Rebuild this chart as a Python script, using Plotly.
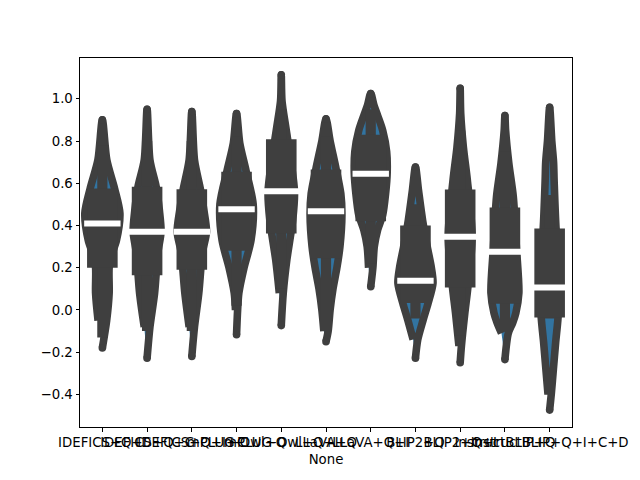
import plotly.graph_objects as go

# ---- data ----
categories = ["IDEFICS+Q+I", "IDEFICS+Q+C", "IDEFICS+Q+I+C", "mPLUG-Owl+Q",
              "mPLUG-Owl+Q+I", "LLaVA+Q", "LLaVA+Q+I", "BLIP2+Q", "BLIP2+Q+I",
              "InstructBLIP+Q", "InstructBLIP+Q+I+C+D"]

# violin density profiles: value levels and relative half-width (1.0 = widest)
v_levels = [
    [-0.18, -0.05, 0.08, 0.20, 0.26, 0.33, 0.458, 0.576, 0.71, 0.90],
    [-0.228, -0.08, 0.08, 0.27, 0.37, 0.47, 0.583, 0.71, 0.95],
    [-0.22, -0.08, 0.08, 0.27, 0.37, 0.47, 0.572, 0.71, 0.94],
    [-0.117, 0.0, 0.08, 0.20, 0.33, 0.50, 0.66, 0.79, 0.93],
    [-0.074, 0.08, 0.236, 0.425, 0.56, 0.71, 0.867, 0.99, 1.114],
    [-0.15, -0.10, 0.0, 0.10, 0.20, 0.30, 0.45, 0.55, 0.67, 0.80, 0.905],
    [0.11, 0.20, 0.30, 0.38, 0.45, 0.55, 0.65, 0.75, 0.85, 0.92, 0.97, 1.025],
    [-0.228, -0.14, -0.047, 0.033, 0.127, 0.20, 0.30, 0.425, 0.567, 0.677],
    [-0.25, -0.17, -0.015, 0.107, 0.347, 0.615, 0.77, 0.93, 1.05],
    [-0.235, -0.11, -0.06, -0.015, 0.08, 0.30, 0.536, 0.694, 0.85, 0.92],
    [-0.474, -0.40, -0.28, -0.15, -0.047, 0.107, 0.25, 0.386, 0.615, 0.70, 0.80, 0.96],
]
v_density = [
    [0.0, 0.24, 0.38, 0.38, 0.52, 0.79, 0.98, 0.68, 0.25, 0.0],
    [0.0, 0.16, 0.42, 0.60, 0.78, 0.69, 0.51, 0.16, 0.0],
    [0.0, 0.15, 0.39, 0.59, 0.82, 0.68, 0.48, 0.15, 0.0],
    [0.0, 0.06, 0.13, 0.42, 0.81, 0.93, 0.53, 0.18, 0.0],
    [0.0, 0.11, 0.31, 0.64, 0.74, 0.53, 0.25, 0.04, 0.0],
    [0.0, 0.12, 0.23, 0.39, 0.61, 0.78, 0.89, 0.83, 0.56, 0.23, 0.0],
    [0.0, 0.12, 0.20, 0.39, 0.67, 0.83, 0.92, 0.89, 0.67, 0.39, 0.18, 0.0],
    [0.0, 0.13, 0.43, 0.71, 0.98, 0.89, 0.66, 0.40, 0.17, 0.0],
    [0.0, 0.07, 0.26, 0.43, 0.67, 0.40, 0.18, 0.03, 0.0],
    [0.0, 0.19, 0.44, 0.61, 0.78, 0.64, 0.47, 0.22, 0.04, 0.0],
    [0.0, 0.09, 0.21, 0.34, 0.46, 0.56, 0.50, 0.36, 0.25, 0.22, 0.12, 0.0],
]

# inner box statistics
q25 = [0.20, 0.165, 0.19, 0.28, 0.362, 0.245, 0.42, 0.033, 0.107, 0.03, -0.035]
median = [0.41, 0.37, 0.37, 0.477, 0.562, 0.468, 0.645, 0.138, 0.347, 0.276, 0.107]
q75 = [0.575, 0.583, 0.572, 0.654, 0.808, 0.665, 0.83, 0.40, 0.57, 0.485, 0.386]
whisk_lo = [-0.13, -0.10, -0.10, 0.02, 0.10, -0.08, 0.22, -0.04, -0.12, -0.10, -0.04]
whisk_hi = [0.78, 0.80, 0.80, 0.82, 0.95, 0.82, 0.95, 0.50, 0.85, 0.75, 0.544]

yticks = [-0.4, -0.2, 0.0, 0.2, 0.4, 0.6, 0.8, 1.0]
yticktext = ["\u22120.4", "\u22120.2", "0.0", "0.2", "0.4", "0.6", "0.8", "1.0"]

# ---- styling ----
BODY = "#3274a1"
GRAY = "#3f3f3f"
MAXHALF = 0.4
LW = 7.6
FONT = "DejaVu Sans"

fig = go.Figure()

for i, (lv, dn) in enumerate(zip(v_levels, v_density)):
    xs = [i + d * MAXHALF for d in dn] + [i - d * MAXHALF for d in reversed(dn[1:-1])]
    ys = list(lv) + list(reversed(lv[1:-1]))
    fig.add_trace(go.Scatter(
        x=xs, y=ys, mode="lines", fill="toself", fillcolor=BODY,
        line=dict(color=GRAY, width=LW, shape="spline", smoothing=0.8),
        hoverinfo="skip", showlegend=False))
    # rounded stroke ends at the two tips
    fig.add_trace(go.Scatter(
        x=[i, i], y=[lv[0], lv[-1]], mode="markers",
        marker=dict(symbol="circle", size=LW, color=GRAY, line=dict(width=0)),
        hoverinfo="skip", showlegend=False))

# whiskers
wx, wy = [], []
for i in range(len(categories)):
    wx += [i, i, None]
    wy += [whisk_lo[i], whisk_hi[i], None]
fig.add_trace(go.Scatter(x=wx, y=wy, mode="lines",
                         line=dict(color=GRAY, width=10.2),
                         hoverinfo="skip", showlegend=False))

# IQR boxes
bx, by = [], []
for i in range(len(categories)):
    bx += [i, i, None]
    by += [q25[i], q75[i], None]
fig.add_trace(go.Scatter(x=bx, y=by, mode="lines",
                         line=dict(color=GRAY, width=30.6),
                         hoverinfo="skip", showlegend=False))

# medians
fig.add_trace(go.Scatter(
    x=list(range(len(categories))), y=median, mode="markers",
    marker=dict(symbol="line-ew", size=26, color="white",
                line=dict(color="white", width=6)),
    hoverinfo="skip", showlegend=False))

axis_common = dict(showline=True, mirror=True, linecolor="black", linewidth=1,
                   ticks="outside", ticklen=3.5, tickwidth=1, tickcolor="black",
                   showgrid=False, zeroline=False,
                   tickfont=dict(family=FONT, size=13.3, color="black"))

fig.update_layout(
    width=640, height=480,
    margin=dict(l=80, r=64, t=58, b=53),
    paper_bgcolor="white", plot_bgcolor="white",
    showlegend=False,
    xaxis=dict(range=[-0.5, len(categories) - 0.5],
               tickvals=list(range(len(categories))), ticktext=categories,
               tickangle=0,
               title=dict(text="None", font=dict(family=FONT, size=13.3, color="black"),
                          standoff=5),
               **axis_common),
    yaxis=dict(range=[-0.554, 1.193], tickvals=yticks, ticktext=yticktext,
               **axis_common),
)

fig.write_html("out.html")
